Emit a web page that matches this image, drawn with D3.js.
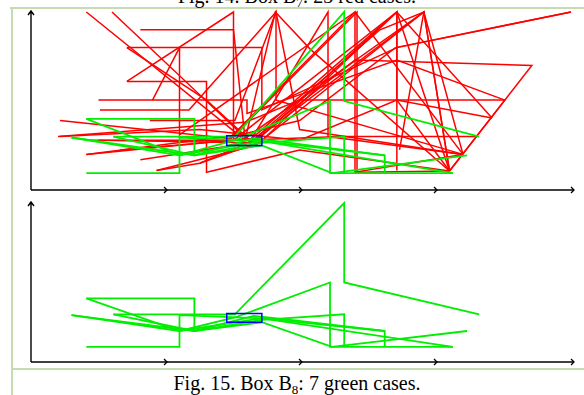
<!DOCTYPE html>
<html>
<head>
<meta charset="utf-8">
<script src="https://cdn.jsdelivr.net/npm/d3@7/dist/d3.min.js"></script>
<style>
  body { margin: 0; background: #fff; }
  svg { display: block; }
</style>
</head>
<body>
<div id="chart"></div>
<script>
// shifted coordinate segments, 100 units each
var tickValues = [100, 200, 300, 400];

// the blue box in both plots
var boxX = [145, 171];
var boxY = [25, 30.5];

// Box B7: 23 red cases, each one polyline [x, y]
var redCases = [
  [[41,100],[158.5,28],[181,100],[207,79],[310,10.7]],
  [[60,100],[162,27],[220,100],[220,30],[320,20]],
  [[71,61],[150,100],[150,28],[271,100],[310,10.7]],
  [[81,90],[150,90],[158.5,29],[291,100],[310,10.7]],
  [[71,80],[171,80],[171,45],[271,80],[400,100]],
  [[71,80],[130,50.5],[162,28],[271,100],[271,11]],
  [[71,61],[130,61],[130,10],[199,22.5],[310,10.7]],
  [[90,50.5],[110,80],[110,31],[240,100],[320,20]],
  [[50,50.5],[160,50.5],[160,43],[271,73],[351,50.5]],
  [[20,30],[158.5,38],[199,50.5],[351,50.5],[310,10.7]],
  [[41,20],[155,31],[199,39],[270,80],[400,100]],
  [[41,20],[147,28],[241.5,100],[241.5,10],[310,10.7]],
  [[21.5,30],[125,34],[199,28],[271,50.5],[341.5,40.5]],
  [[93,11],[166,25],[291,100],[320,20]],
  [[50,28],[162,26.5],[240,73],[371,70],[310,10.7]],
  [[125,15],[170,27],[271,100],[271,50.5],[310,10.7]],
  [[66,22.5],[166,29],[258.5,90],[291,100],[310,10.7]],
  [[41,28],[155,28],[229,30],[330,30]],
  [[51,45],[117,45],[181.5,100],[181.5,50.5],[320,20]],
  [[81,17],[166,27],[271,100],[341.5,40.5]],
  [[21.5,39],[147,29],[240,100],[240,10],[320,20]],
  [[93,11],[125,15],[166,28],[291,100],[273,22.5]],
  [[88,39],[151,39],[181.5,100],[199,34],[320,20]]
];

// Box B8: 7 green cases
var greenCases = [
  [[41,40],[121,40],[121,19.5],[171,26.5],[232,30],[232,9.5]],
  [[41,40],[110,19.5],[171,27.5],[262,19.5],[262,9.5]],
  [[30,29.5],[110,19.5],[151,28],[221.5,50],[221.5,9.5],[312.5,9.5]],
  [[61,30],[151,30],[232,100],[232,50],[332,30]],
  [[41,9.5],[110,9.5],[110,29.5],[171,27.5],[312.5,9.5]],
  [[61,30],[121,19.5],[171,25],[223,9.5],[323,19.5]],
  [[30,29.5],[121,19.5],[165,29],[192,26.5],[262,19.5]]
];

var width = 584;
var height = 395;

var svg = d3.select("#chart")
    .append("svg")
    .attr("width", width)
    .attr("height", height);

// page frame
svg.append("path")
    .attr("d", "M10,8H584M12,8V395M12,369H584")
    .attr("fill", "none")
    .attr("stroke", "#c5dcb0")
    .attr("stroke-width", 2);

// captions
function caption(y, main, sub, rest) {
  var t = svg.append("text")
      .attr("x", 297)
      .attr("y", y)
      .attr("text-anchor", "middle")
      .attr("font-family", "Liberation Serif, Times New Roman, serif")
      .attr("font-size", "20px")
      .attr("fill", "#000");
  t.append("tspan").text(main);
  t.append("tspan").attr("font-size", "13px").attr("dy", 4).text(sub);
  t.append("tspan").attr("dy", -4).text(rest);
}
caption(3, "Fig. 14. Box B", "7", ": 23 red cases.");
caption(390, "Fig. 15. Box B", "8", ": 7 green cases.");

var x = d3.scaleLinear().domain([0, 400]).range([31, 571]);

var panels = [
  {top: 12, bottom: 190, sets: [[redCases, "#ff0000", 1.5], [greenCases, "#00ee00", 1.8]]},
  {top: 203, bottom: 362, sets: [[greenCases, "#00ee00", 1.8]]}
];

panels.forEach(function(p) {
  var y = d3.scaleLinear().domain([0, 100]).range([p.bottom, p.top]);
  var g = svg.append("g");

  // y axis with arrow
  g.append("path")
      .attr("d", "M" + x(0) + "," + y(0) + "V" + (y(100) - 1) +
                 "M" + (x(0) - 3) + "," + (y(100) + 3) + "L" + x(0) + "," + (y(100) - 1) +
                 "L" + (x(0) + 3) + "," + (y(100) + 3))
      .attr("fill", "none")
      .attr("stroke", "#000")
      .attr("stroke-width", 1.4);

  // x axis with arrow marks at every segment end
  g.append("path")
      .attr("d", "M" + x(0) + "," + y(0) + "H" + (x(400) + 2))
      .attr("stroke", "#000")
      .attr("stroke-width", 1.6);

  g.selectAll(".tick")
      .data(tickValues)
      .enter().append("path")
      .attr("class", "tick")
      .attr("d", function(d) {
        var tx = x(d) + (d === 400 ? 2 : 0);
        return "M" + (tx - 2) + "," + (y(0) - 3) + "L" + (tx + 1) + "," + y(0) +
               "L" + (tx - 2) + "," + (y(0) + 3);
      })
      .attr("fill", "none")
      .attr("stroke", "#000")
      .attr("stroke-width", 1.3);

  var line = d3.line()
      .x(function(d) { return x(d[0]); })
      .y(function(d) { return y(d[1]); });

  p.sets.forEach(function(s) {
    g.append("g").selectAll("path")
        .data(s[0])
        .enter().append("path")
        .attr("d", line)
        .attr("fill", "none")
        .attr("stroke", s[1])
        .attr("stroke-width", s[2])
        .attr("stroke-linejoin", "miter");
  });

  // blue box
  g.append("rect")
      .attr("x", x(boxX[0]))
      .attr("y", y(boxY[1]))
      .attr("width", x(boxX[1]) - x(boxX[0]))
      .attr("height", y(boxY[0]) - y(boxY[1]))
      .attr("fill", "none")
      .attr("stroke", "#0000ff")
      .attr("stroke-width", 1.5);
});
</script>
</body>
</html>
